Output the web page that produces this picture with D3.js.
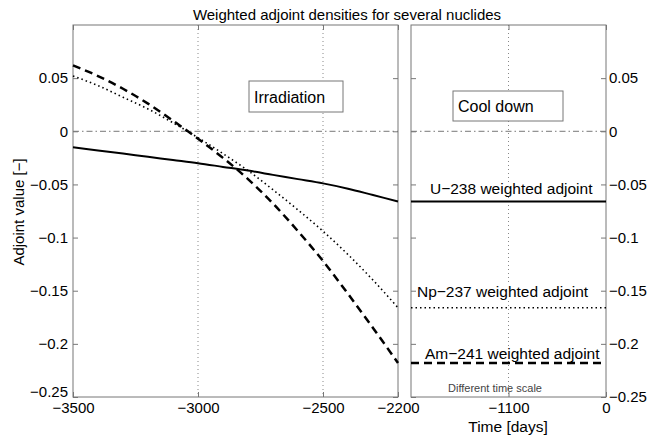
<!DOCTYPE html>
<html>
<head>
<meta charset="utf-8">
<script src="https://cdn.jsdelivr.net/npm/d3@7"></script>
<style>
  body { margin: 0; background: #fff; }
  svg { font-family: "Liberation Sans", Arial, sans-serif; }
</style>
</head>
<body>
<div id="chart"></div>
<script>
// Irradiation period (left panel), days
const days = [-3500, -3400, -3300, -3200, -3100, -3000, -2900, -2800, -2700, -2600, -2500, -2400, -2300, -2200];
const u238 = [-0.015, -0.018, -0.021, -0.024, -0.027, -0.030, -0.0335, -0.037, -0.041, -0.045, -0.049, -0.054, -0.060, -0.066];
const np237 = [0.052, 0.043, 0.032, 0.021, 0.008, -0.006, -0.021, -0.037, -0.055, -0.074, -0.094, -0.116, -0.140, -0.166];
const am241 = [0.062, 0.052, 0.040, 0.026, 0.010, -0.007, -0.025, -0.045, -0.068, -0.094, -0.122, -0.153, -0.185, -0.218];

// Cool down period (right panel), values stay flat
const coolDays = [-2200, 0];
const coolU238 = [-0.066, -0.066];
const coolNp237 = [-0.166, -0.166];
const coolAm241 = [-0.218, -0.218];

const yTicks = [-0.25, -0.2, -0.15, -0.1, -0.05, 0, 0.05];
const xTicksLeft = [-3500, -3000, -2500, -2200];
const xTicksRight = [-1100, 0];
const gridLeft = [-3000, -2500];
const gridRight = [-1100];

const width = 649;
const height = 437;
const plotTop = 25, plotBottom = 397;
const leftPanel = { x0: 73, x1: 398 };
const rightPanel = { x0: 411, x1: 606 };
const frameColor = '#777';

const svg = d3.select('#chart')
    .append('svg')
    .attr('width', width)
    .attr('height', height);

const y = d3.scaleLinear().domain([-0.25, 0.1]).range([plotBottom, plotTop]);
const xL = d3.scaleLinear().domain([-3500, -2200]).range([leftPanel.x0, leftPanel.x1]);
const xR = d3.scaleLinear().domain([-2200, 0]).range([rightPanel.x0, rightPanel.x1]);

const fmt = d3.format('~g');

// grid lines
svg.append('g')
    .selectAll('line')
    .data(gridLeft)
    .join('line')
    .attr('x1', d => xL(d)).attr('x2', d => xL(d))
    .attr('y1', plotTop).attr('y2', plotBottom)
    .attr('stroke', '#888')
    .attr('stroke-dasharray', '1,3');

svg.append('g')
    .selectAll('line')
    .data(gridRight)
    .join('line')
    .attr('x1', d => xR(d)).attr('x2', d => xR(d))
    .attr('y1', plotTop).attr('y2', plotBottom)
    .attr('stroke', '#888')
    .attr('stroke-dasharray', '1,3');

// zero lines (dash-dot)
[[xL, -3500, -2200], [xR, -2200, 0]].forEach(([sx, a, b]) => {
    svg.append('line')
        .attr('x1', sx(a)).attr('x2', sx(b))
        .attr('y1', y(0)).attr('y2', y(0))
        .attr('stroke', '#777')
        .attr('stroke-dasharray', '6,3,1.5,3');
});

// axes
function styleAxis(g) {
    g.select('.domain').remove();
    g.selectAll('.tick line').attr('stroke', frameColor);
    g.selectAll('.tick text')
        .attr('fill', '#000')
        .style('font-size', '15px');
}

svg.append('g')
    .attr('transform', `translate(${leftPanel.x0},0)`)
    .call(d3.axisLeft(y).tickValues(yTicks).tickFormat(fmt).tickSizeInner(-5).tickSizeOuter(0).tickPadding(5))
    .call(styleAxis)
    .call(g => g.selectAll('.tick text').filter(d => d === -0.25).attr('dy', '-0.05em'));

svg.append('g')
    .attr('transform', `translate(${leftPanel.x1},0)`)
    .call(d3.axisRight(y).tickValues(yTicks).tickFormat('').tickSizeInner(-5).tickSizeOuter(0))
    .call(styleAxis);

svg.append('g')
    .attr('transform', `translate(${rightPanel.x0},0)`)
    .call(d3.axisLeft(y).tickValues(yTicks).tickFormat('').tickSizeInner(-5).tickSizeOuter(0))
    .call(styleAxis);

svg.append('g')
    .attr('transform', `translate(${rightPanel.x1},0)`)
    .call(d3.axisRight(y).tickValues(yTicks).tickFormat(fmt).tickSizeInner(-5).tickSizeOuter(0).tickPadding(3))
    .call(styleAxis);

svg.append('g')
    .attr('transform', `translate(0,${plotBottom})`)
    .call(d3.axisBottom(xL).tickValues(xTicksLeft).tickFormat(fmt).tickSizeInner(-5).tickSizeOuter(0).tickPadding(5))
    .call(styleAxis);

svg.append('g')
    .attr('transform', `translate(0,${plotBottom})`)
    .call(d3.axisBottom(xR).tickValues(xTicksRight).tickFormat(fmt).tickSizeInner(-5).tickSizeOuter(0).tickPadding(5))
    .call(styleAxis);

svg.append('g')
    .attr('transform', `translate(0,${plotTop})`)
    .call(d3.axisTop(xL).tickValues(xTicksLeft).tickFormat('').tickSizeInner(-5).tickSizeOuter(0))
    .call(styleAxis);

svg.append('g')
    .attr('transform', `translate(0,${plotTop})`)
    .call(d3.axisTop(xR).tickValues(xTicksRight).tickFormat('').tickSizeInner(-5).tickSizeOuter(0))
    .call(styleAxis);

// frames
[leftPanel, rightPanel].forEach(p => {
    svg.append('rect')
        .attr('x', p.x0).attr('y', plotTop)
        .attr('width', p.x1 - p.x0).attr('height', plotBottom - plotTop)
        .attr('fill', 'none')
        .attr('stroke', frameColor);
});

// curves
const lineL = d3.line()
    .x(d => xL(d[0]))
    .y(d => y(d[1]))
    .curve(d3.curveMonotoneX);

const lineR = d3.line()
    .x(d => xR(d[0]))
    .y(d => y(d[1]));

const styles = [
    { left: u238, right: coolU238, width: 2, dash: null },
    { left: np237, right: coolNp237, width: 1.6, dash: '1.5,3' },
    { left: am241, right: coolAm241, width: 2.5, dash: '8,5' }
];

styles.forEach(s => {
    svg.append('path')
        .datum(days.map((d, i) => [d, s.left[i]]))
        .attr('d', lineL)
        .attr('fill', 'none')
        .attr('stroke', '#000')
        .attr('stroke-width', s.width)
        .attr('stroke-dasharray', s.dash);
    svg.append('path')
        .datum(coolDays.map((d, i) => [d, s.right[i]]))
        .attr('d', lineR)
        .attr('fill', 'none')
        .attr('stroke', '#000')
        .attr('stroke-width', s.width)
        .attr('stroke-dasharray', s.dash);
});

// phase boxes
function boxLabel(x, yy, w, h, label) {
    svg.append('rect')
        .attr('x', x).attr('y', yy)
        .attr('width', w).attr('height', h)
        .attr('fill', '#fff')
        .attr('stroke', frameColor);
    svg.append('text')
        .attr('x', x + 5).attr('y', yy + h / 2 + 6)
        .text(label)
        .style('font-size', '16px');
}
boxLabel(249, 81, 94, 31, 'Irradiation');
boxLabel(453, 91, 110, 30, 'Cool down');

// curve labels
function curveLabel(x, yy, label) {
    const t = svg.append('text')
        .attr('x', x).attr('y', yy)
        .text(label)
        .style('font-size', '15.5px');
    const b = t.node().getBBox();
    svg.insert('rect', () => t.node())
        .attr('x', b.x).attr('y', b.y + 2)
        .attr('width', b.width).attr('height', b.height - 4)
        .attr('fill', '#fff');
}
curveLabel(430, 194, 'U\u2212238 weighted adjoint');
curveLabel(417, 297, 'Np\u2212237 weighted adjoint');
curveLabel(425, 359, 'Am\u2212241 weighted adjoint');

svg.append('text')
    .attr('x', 448).attr('y', 392)
    .text('Different time scale')
    .style('font-size', '11px')
    .attr('fill', '#444');

// title and axis labels
svg.append('text')
    .attr('x', 347).attr('y', 20)
    .attr('text-anchor', 'middle')
    .text('Weighted adjoint densities for several nuclides')
    .style('font-size', '15px');

svg.append('text')
    .attr('x', 508).attr('y', 432)
    .attr('text-anchor', 'middle')
    .text('Time [days]')
    .style('font-size', '15.5px');

svg.append('text')
    .attr('transform', 'rotate(-90)')
    .attr('x', -212)
    .attr('y', 24)
    .attr('text-anchor', 'middle')
    .text('Adjoint value [\u2212]')
    .style('font-size', '15px');
</script>
</body>
</html>
